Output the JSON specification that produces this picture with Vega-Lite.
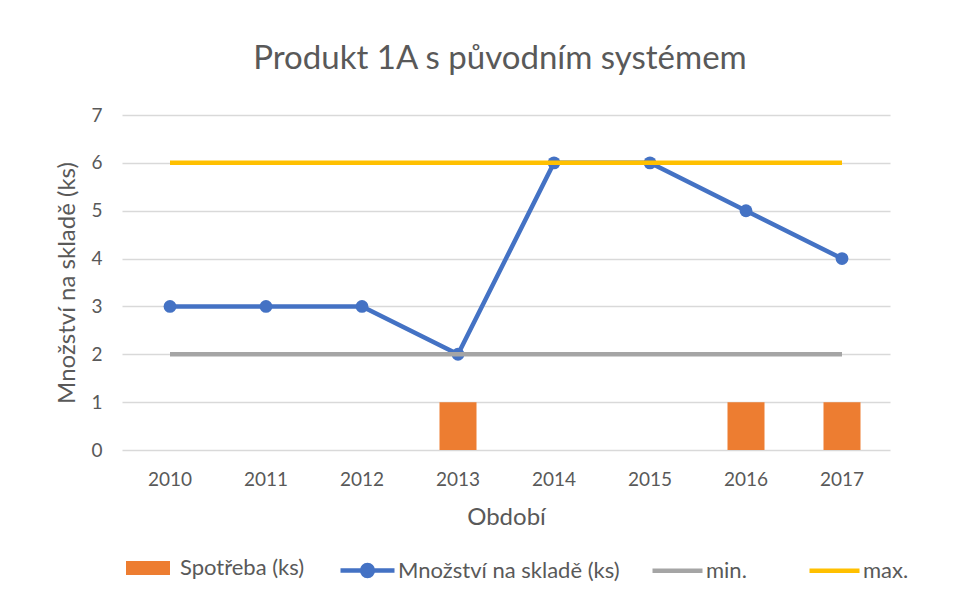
{
  "$schema": "https://vega.github.io/schema/vega-lite/v6.json",
  "width": 768,
  "height": 335,
  "autosize": {"type": "none"},
  "padding": {"left": 122, "top": 115, "right": 88, "bottom": 149},
  "background": "white",
  "config": {"font": "Lato", "view": {"stroke": null}},
  "title": {"text": "Produkt 1A s původním systémem", "fontSize": 33, "fontWeight": "normal", "color": "#595959", "offset": 30, "dx": -6},
  "data": {"values": [
    {"year": "2010", "series": "Spotřeba (ks)", "value": 0},
    {"year": "2011", "series": "Spotřeba (ks)", "value": 0},
    {"year": "2012", "series": "Spotřeba (ks)", "value": 0},
    {"year": "2013", "series": "Spotřeba (ks)", "value": 1},
    {"year": "2014", "series": "Spotřeba (ks)", "value": 0},
    {"year": "2015", "series": "Spotřeba (ks)", "value": 0},
    {"year": "2016", "series": "Spotřeba (ks)", "value": 1},
    {"year": "2017", "series": "Spotřeba (ks)", "value": 1},
    {"year": "2010", "series": "Množství na skladě (ks)", "value": 3},
    {"year": "2011", "series": "Množství na skladě (ks)", "value": 3},
    {"year": "2012", "series": "Množství na skladě (ks)", "value": 3},
    {"year": "2013", "series": "Množství na skladě (ks)", "value": 2},
    {"year": "2014", "series": "Množství na skladě (ks)", "value": 6},
    {"year": "2015", "series": "Množství na skladě (ks)", "value": 6},
    {"year": "2016", "series": "Množství na skladě (ks)", "value": 5},
    {"year": "2017", "series": "Množství na skladě (ks)", "value": 4},
    {"year": "2010", "series": "min.", "value": 2},
    {"year": "2011", "series": "min.", "value": 2},
    {"year": "2012", "series": "min.", "value": 2},
    {"year": "2013", "series": "min.", "value": 2},
    {"year": "2014", "series": "min.", "value": 2},
    {"year": "2015", "series": "min.", "value": 2},
    {"year": "2016", "series": "min.", "value": 2},
    {"year": "2017", "series": "min.", "value": 2},
    {"year": "2010", "series": "max.", "value": 6},
    {"year": "2011", "series": "max.", "value": 6},
    {"year": "2012", "series": "max.", "value": 6},
    {"year": "2013", "series": "max.", "value": 6},
    {"year": "2014", "series": "max.", "value": 6},
    {"year": "2015", "series": "max.", "value": 6},
    {"year": "2016", "series": "max.", "value": 6},
    {"year": "2017", "series": "max.", "value": 6}
  ]},
  "encoding": {
    "x": {
      "field": "year", "type": "ordinal",
      "scale": {"paddingInner": 0, "paddingOuter": 0},
      "axis": {
        "title": "Období", "labelAngle": 0, "domain": false, "ticks": false,
        "labelFontSize": 19, "labelColor": "#595959", "labelPadding": 20,
        "titleFontSize": 24, "titleFontWeight": "normal", "titleColor": "#595959", "titlePadding": 16
      }
    },
    "y": {
      "field": "value", "type": "quantitative",
      "scale": {"domain": [0, 7], "nice": false},
      "axis": {
        "title": "Množství na skladě (ks)", "values": [0, 1, 2, 3, 4, 5, 6, 7],
        "domain": false, "ticks": false, "gridColor": "#D9D9D9", "gridWidth": 1.5,
        "labelFontSize": 19, "labelColor": "#595959", "labelPadding": 20,
        "titleFontSize": 24, "titleFontWeight": "normal", "titleColor": "#595959", "titlePadding": 11
      }
    }
  },
  "layer": [
    {
      "transform": [{"filter": "datum.series === 'Spotřeba (ks)'"}],
      "mark": {"type": "bar", "size": 37},
      "encoding": {
        "fill": {
          "field": "series", "type": "nominal",
          "scale": {"domain": ["Spotřeba (ks)"], "range": ["#ED7D31"]},
          "legend": {
            "title": null, "orient": "none", "legendX": 4, "legendY": 431,
            "symbolType": "M-1,-0.32H1V0.32H-1Z", "symbolSize": 1936, "symbolStrokeWidth": 0,
            "labelFontSize": 22, "labelColor": "#595959", "labelOffset": 10, "labelLimit": 400, "padding": 0
          }
        }
      }
    },
    {
      "transform": [{"filter": "datum.series === 'Množství na skladě (ks)'"}],
      "mark": {"type": "line", "stroke": "#4472C4", "point": {"filled": true, "size": 165, "color": "#4472C4"}},
      "encoding": {
        "strokeWidth": {
          "field": "series", "type": "nominal",
          "scale": {"domain": ["Množství na skladě (ks)"], "range": [4.5, 4.5]},
          "legend": {
            "title": null, "orient": "none", "legendX": 216, "legendY": 426,
            "symbolType": "M-1,0H1M0.2,0A0.2,0.2 0 1,1 -0.2,0A0.2,0.2 0 1,1 0.2,0Z",
            "symbolSize": 2916, "symbolStrokeColor": "#4472C4", "symbolFillColor": "#4472C4",
            "symbolStrokeWidth": 4.5, "symbolOpacity": 1,
            "labelFontSize": 22, "labelColor": "#595959", "labelOffset": 1, "labelLimit": 400, "padding": 0,
            "encode": {"symbols": {"update": {"stroke": {"value": "#4472C4"}, "strokeWidth": {"value": 4.5}, "strokeOpacity": {"value": 1}, "fill": {"value": "#4472C4"}}}}
          }
        }
      }
    },
    {
      "transform": [{"filter": "datum.series === 'min.' || datum.series === 'max.'"}],
      "mark": {"type": "line", "strokeWidth": 4.5},
      "encoding": {
        "stroke": {
          "field": "series", "type": "nominal",
          "scale": {"domain": ["min.", "max."], "range": ["#A5A5A5", "#FFC000"]},
          "legend": {
            "title": null, "orient": "none", "legendX": 528, "legendY": 428, "direction": "horizontal",
            "symbolType": "M-1,0H1", "symbolSize": 2500, "symbolStrokeWidth": 4.5,
            "labelFontSize": 22, "labelColor": "#595959", "labelOffset": 1, "labelLimit": 400, "padding": 0, "columnPadding": 53
          }
        }
      }
    }
  ]
}
